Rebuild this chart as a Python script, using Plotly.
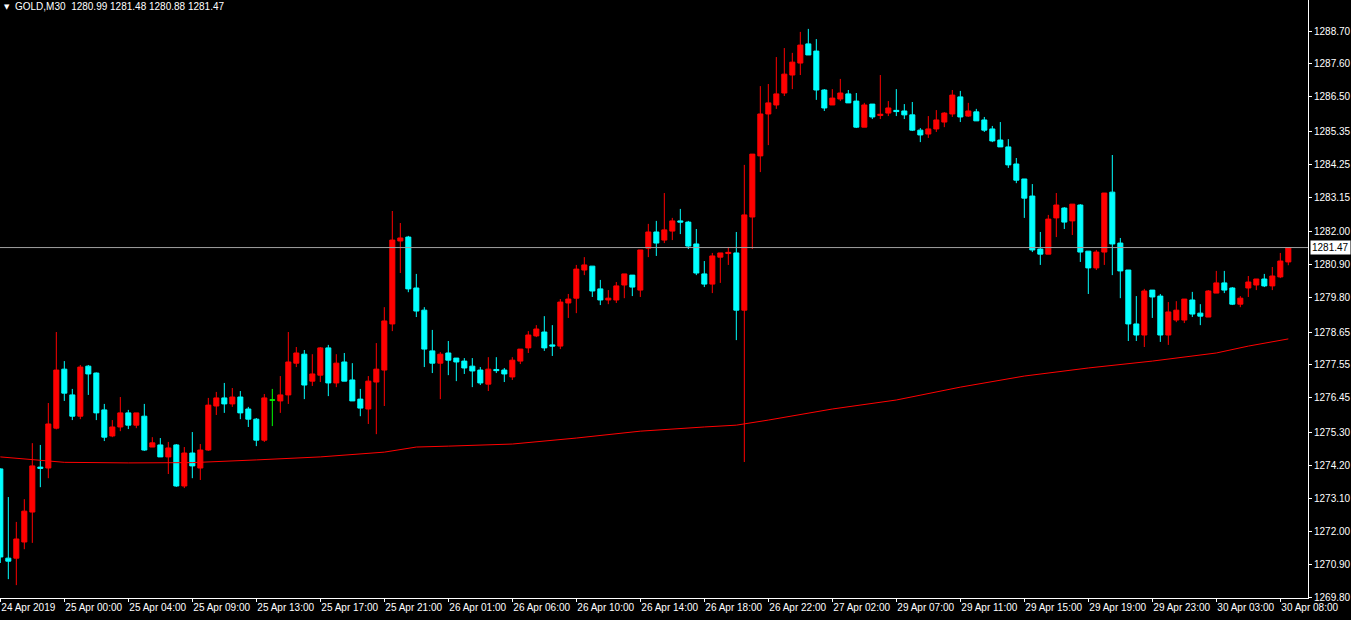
import plotly.graph_objects as go

# ---- data (GOLD, M30) ----
opens = [1274.08, 1271.10, 1271.10, 1271.64, 1272.64, 1274.14, 1274.11, 1275.44, 1277.41, 1276.55,
         1275.84, 1277.51, 1277.28, 1276.05, 1275.18, 1275.48, 1275.95, 1275.54, 1275.84, 1274.81,
         1274.88, 1274.48, 1274.88, 1273.51, 1274.61, 1274.11, 1274.71, 1276.18, 1276.45, 1276.25,
         1276.48, 1276.08, 1275.74, 1275.04, 1276.38, 1276.35, 1276.55, 1277.61, 1277.91, 1277.01,
         1277.21, 1278.12, 1276.95, 1277.65, 1277.05, 1276.41, 1276.08, 1276.98, 1277.38, 1278.92,
         1281.69, 1281.82, 1280.12, 1279.38, 1278.02, 1277.61, 1277.95, 1277.78, 1277.68, 1277.51,
         1277.38, 1276.91, 1277.40, 1277.38, 1277.15, 1277.68, 1278.12, 1278.52, 1278.65, 1278.22,
         1278.18, 1279.62, 1279.78, 1280.72, 1280.85, 1280.09, 1279.72, 1279.72, 1280.22, 1280.55,
         1280.05, 1281.45, 1281.99, 1281.72, 1282.02, 1282.36, 1282.32, 1281.59, 1280.59, 1280.25,
         1281.15, 1281.27, 1281.29, 1279.38, 1282.49, 1284.53, 1285.93, 1286.23, 1286.63, 1287.23,
         1287.63, 1288.27, 1288.03, 1286.73, 1286.23, 1286.43, 1286.60, 1286.36, 1285.49, 1286.26,
         1285.88, 1285.96, 1286.05, 1286.03, 1285.90, 1285.39, 1285.26, 1285.43, 1285.66, 1285.93,
         1286.50, 1285.86, 1286.00, 1285.73, 1285.43, 1285.06, 1284.83, 1284.26, 1283.76, 1283.19,
         1281.42, 1281.25, 1282.46, 1282.79, 1282.36, 1282.89, 1281.35, 1280.79, 1281.32, 1283.32,
         1281.62, 1280.72, 1278.92, 1278.55, 1280.05, 1279.85, 1278.55, 1279.05, 1279.05, 1279.72,
         1279.28, 1279.15, 1279.95, 1280.29, 1280.12, 1279.58, 1280.12, 1280.22, 1280.42, 1280.19,
         1280.49, 1280.99]
highs = [1274.10, 1273.14, 1272.31, 1273.07, 1274.94, 1274.88, 1276.28, 1278.65, 1277.68, 1276.75,
         1277.55, 1277.55, 1277.30, 1276.25, 1275.71, 1276.48, 1276.05, 1275.95, 1276.25, 1275.14,
         1275.11, 1274.98, 1274.91, 1274.81, 1275.31, 1274.91, 1276.45, 1276.65, 1276.95, 1276.78,
         1276.68, 1276.15, 1275.78, 1276.58, 1276.75, 1277.18, 1278.65, 1278.15, 1278.05, 1277.91,
         1278.15, 1278.22, 1277.91, 1277.95, 1277.61, 1276.75, 1277.18, 1278.28, 1279.48, 1282.69,
         1282.29, 1281.86, 1280.59, 1279.48, 1278.72, 1277.98, 1278.35, 1277.78, 1277.78, 1277.78,
         1277.48, 1277.81, 1277.81, 1277.45, 1277.81, 1278.08, 1278.68, 1278.88, 1279.18, 1278.88,
         1279.75, 1279.92, 1280.89, 1281.15, 1280.85, 1280.39, 1280.05, 1280.32, 1280.59, 1280.55,
         1281.39, 1282.26, 1282.36, 1283.29, 1282.46, 1282.76, 1282.36, 1282.09, 1281.02, 1281.29,
         1281.29, 1281.49, 1281.99, 1284.23, 1284.59, 1286.86, 1286.93, 1287.83, 1288.13, 1287.97,
         1288.67, 1288.77, 1288.43, 1286.76, 1286.76, 1287.10, 1286.73, 1286.63, 1286.30, 1286.26,
         1287.23, 1286.36, 1286.76, 1286.26, 1286.33, 1285.46, 1285.86, 1286.06, 1285.99, 1286.73,
         1286.70, 1286.30, 1286.10, 1285.83, 1285.53, 1285.66, 1285.09, 1284.46, 1283.76, 1283.59,
         1281.99, 1282.56, 1283.29, 1282.82, 1282.92, 1282.92, 1281.35, 1281.39, 1283.29, 1284.56,
         1281.79, 1280.72, 1279.85, 1280.09, 1280.05, 1279.92, 1279.65, 1279.68, 1279.75, 1279.99,
         1279.58, 1280.05, 1280.69, 1280.69, 1280.15, 1279.85, 1280.52, 1280.42, 1280.59, 1280.82,
         1281.29, 1281.48]
lows = [1270.94, 1270.40, 1270.20, 1271.40, 1271.61, 1273.47, 1273.77, 1275.40, 1276.35, 1275.71,
        1275.74, 1276.55, 1275.71, 1275.01, 1275.14, 1275.34, 1275.41, 1275.44, 1274.68, 1274.81,
        1274.48, 1273.91, 1273.48, 1273.44, 1273.77, 1273.71, 1274.68, 1275.88, 1275.95, 1276.15,
        1275.74, 1275.48, 1274.84, 1274.98, 1275.51, 1275.95, 1276.25, 1277.48, 1276.41, 1276.85,
        1276.98, 1276.51, 1276.81, 1277.01, 1276.35, 1275.84, 1275.58, 1275.24, 1276.18, 1278.68,
        1280.62, 1279.98, 1279.15, 1277.48, 1277.28, 1276.41, 1277.21, 1277.01, 1277.25, 1276.81,
        1276.88, 1276.68, 1277.28, 1276.98, 1277.05, 1277.58, 1277.95, 1278.48, 1278.02, 1277.85,
        1278.08, 1279.12, 1279.28, 1280.55, 1279.82, 1279.55, 1279.58, 1279.62, 1279.78, 1279.85,
        1279.82, 1281.15, 1281.19, 1281.62, 1281.72, 1281.92, 1281.42, 1280.55, 1280.15, 1279.95,
        1280.29, 1280.89, 1278.38, 1274.31, 1281.42, 1283.99, 1284.89, 1286.10, 1286.53, 1286.76,
        1287.23, 1287.90, 1286.40, 1286.03, 1286.23, 1286.36, 1286.30, 1285.46, 1285.49, 1285.76,
        1285.76, 1285.86, 1285.86, 1285.76, 1285.36, 1284.99, 1285.13, 1285.33, 1285.49, 1285.83,
        1285.66, 1285.83, 1285.70, 1285.33, 1284.99, 1284.83, 1284.13, 1283.62, 1282.46, 1281.32,
        1280.89, 1281.25, 1281.82, 1282.09, 1281.89, 1280.99, 1279.92, 1280.72, 1280.89, 1280.55,
        1279.78, 1278.35, 1278.35, 1278.15, 1279.12, 1278.32, 1278.22, 1278.98, 1278.95, 1279.15,
        1278.88, 1279.15, 1279.95, 1279.95, 1279.55, 1279.48, 1279.82, 1280.05, 1280.15, 1280.05,
        1280.45, 1280.88]
closes = [1271.14, 1271.00, 1271.74, 1272.67, 1274.18, 1274.10, 1275.58, 1277.38, 1276.61, 1275.84,
          1277.48, 1277.25, 1275.95, 1275.14, 1275.48, 1275.95, 1275.54, 1275.95, 1274.71, 1274.95,
          1274.48, 1274.78, 1273.51, 1274.61, 1274.18, 1274.71, 1276.21, 1276.45, 1276.25, 1276.48,
          1275.95, 1275.74, 1275.04, 1276.45, 1276.38, 1276.55, 1277.65, 1277.95, 1276.88, 1277.25,
          1278.12, 1276.95, 1277.61, 1277.01, 1276.35, 1276.11, 1277.01, 1277.41, 1279.02, 1281.72,
          1281.79, 1280.09, 1279.35, 1278.08, 1277.61, 1277.91, 1277.71, 1277.65, 1277.45, 1277.35,
          1276.95, 1277.41, 1277.36, 1277.25, 1277.71, 1278.08, 1278.55, 1278.75, 1278.12, 1278.18,
          1279.65, 1279.75, 1280.75, 1280.89, 1280.02, 1279.72, 1279.78, 1280.19, 1280.59, 1280.15,
          1281.39, 1281.99, 1281.62, 1282.06, 1282.36, 1282.32, 1281.52, 1280.62, 1280.25, 1281.19,
          1281.29, 1281.31, 1279.38, 1282.56, 1284.59, 1285.93, 1286.30, 1286.60, 1287.26, 1287.66,
          1288.23, 1287.90, 1286.73, 1286.13, 1286.46, 1286.63, 1286.30, 1285.49, 1286.23, 1285.83,
          1285.92, 1286.13, 1286.01, 1285.90, 1285.39, 1285.23, 1285.43, 1285.73, 1285.96, 1286.56,
          1285.83, 1286.03, 1285.70, 1285.39, 1285.03, 1284.83, 1284.23, 1283.72, 1283.12, 1281.39,
          1281.25, 1282.42, 1282.89, 1282.32, 1282.92, 1281.32, 1280.79, 1281.32, 1283.29, 1281.59,
          1280.69, 1278.92, 1278.55, 1280.02, 1279.82, 1278.55, 1279.32, 1279.38, 1279.75, 1279.25,
          1279.18, 1280.02, 1280.29, 1280.05, 1279.58, 1279.78, 1280.32, 1280.42, 1280.19, 1280.52,
          1281.02, 1281.47]

# moving average read at sampled bars
ma_bars = [0, 4, 8, 16, 24, 32, 40, 48, 52, 56, 64, 72, 80, 88, 92, 96, 104, 112, 120, 128, 136, 144, 152, 156, 161]
ma_values = [1274.48, 1274.38, 1274.30, 1274.28, 1274.29, 1274.38, 1274.48, 1274.64, 1274.81, 1274.84,
             1274.91, 1275.11, 1275.34, 1275.48, 1275.54, 1275.71, 1276.08, 1276.38, 1276.81, 1277.18,
             1277.45, 1277.68, 1277.95, 1278.18, 1278.42]

x_tick_bars = list(range(0, 162, 8))
x_tick_labels = ["24 Apr 2019", "25 Apr 00:00", "25 Apr 04:00", "25 Apr 09:00", "25 Apr 13:00",
                 "25 Apr 17:00", "25 Apr 21:00", "26 Apr 01:00", "26 Apr 06:00", "26 Apr 10:00",
                 "26 Apr 14:00", "26 Apr 18:00", "26 Apr 22:00", "27 Apr 02:00", "29 Apr 07:00",
                 "29 Apr 11:00", "29 Apr 15:00", "29 Apr 19:00", "29 Apr 23:00", "30 Apr 03:00",
                 "30 Apr 08:00"]
y_tick_labels = ["1288.70", "1287.60", "1286.50", "1285.35", "1284.25", "1283.15", "1282.00",
                 "1280.90", "1279.80", "1278.65", "1277.55", "1276.45", "1275.30", "1274.20",
                 "1273.10", "1272.00", "1270.90", "1269.80"]

symbol = "GOLD,M30"
last_price = closes[-1]

# ---- figure ----
idx = list(range(len(opens)))
norm = [i for i in idx if opens[i] != closes[i]]
doji = [i for i in idx if opens[i] == closes[i]]

fig = go.Figure()
fig.add_trace(go.Candlestick(
    x=norm,
    open=[opens[i] for i in norm], high=[highs[i] for i in norm],
    low=[lows[i] for i in norm], close=[closes[i] for i in norm],
    increasing=dict(line=dict(color="#ff0000", width=1), fillcolor="#ff0000"),
    decreasing=dict(line=dict(color="#00ffff", width=1), fillcolor="#00ffff"),
    whiskerwidth=0, showlegend=False, hoverinfo="skip"))
fig.add_trace(go.Candlestick(
    x=doji,
    open=[opens[i] for i in doji], high=[highs[i] for i in doji],
    low=[lows[i] for i in doji], close=[closes[i] for i in doji],
    increasing=dict(line=dict(color="#00ff00", width=1), fillcolor="#00ff00"),
    decreasing=dict(line=dict(color="#00ff00", width=1), fillcolor="#00ff00"),
    whiskerwidth=0, showlegend=False, hoverinfo="skip"))
fig.add_trace(go.Scatter(x=ma_bars, y=ma_values, mode="lines",
                         line=dict(color="#ff0000", width=1), showlegend=False, hoverinfo="skip"))

fig.add_hline(y=last_price, line=dict(color="#a0a0a0", width=1))

fig.add_annotation(xref="paper", yref="y", x=1, y=last_price, xanchor="left", yanchor="middle",
                   xshift=2, text=f"{last_price:.2f}", showarrow=False, bgcolor="#ffffff",
                   font=dict(color="#000000", size=10, family="Liberation Sans"), borderpad=1)
fig.add_annotation(xref="paper", yref="paper", x=0, y=1, xanchor="left", yanchor="top",
                   xshift=2, yshift=-1, text="▼", showarrow=False,
                   font=dict(color="#ffffff", size=7, family="DejaVu Sans"))
fig.add_annotation(xref="paper", yref="paper", x=0, y=1, xanchor="left", yanchor="top",
                   xshift=13, yshift=1,
                   text=f"{symbol}  {opens[-1]:.2f} {highs[-1]:.2f} {lows[-1]:.2f} {closes[-1]:.2f}",
                   showarrow=False, font=dict(color="#ffffff", size=10, family="Liberation Sans"))

fig.update_layout(
    width=1351, height=620,
    paper_bgcolor="#000000", plot_bgcolor="#000000",
    margin=dict(l=0, r=43, t=0, b=22, autoexpand=False),
    boxgap=0.3, boxgroupgap=0.1,
    xaxis=dict(range=[-0.04, 163.46], showgrid=False, zeroline=False, rangeslider=dict(visible=False),
               tickmode="array", tickvals=x_tick_bars, ticktext=x_tick_labels, tickangle=0,
               automargin=False,
               ticks="outside", ticklen=3, tickcolor="#ffffff", ticklabelposition="outside right",
               showline=True, linecolor="#ffffff", linewidth=1,
               tickfont=dict(color="#ffffff", size=10, family="Liberation Sans")),
    yaxis=dict(range=[1269.77, 1289.735], side="right", showgrid=False, zeroline=False,
               automargin=False,
               tickmode="array", tickvals=[float(v) for v in y_tick_labels], ticktext=y_tick_labels,
               ticks="outside", ticklen=3, tickcolor="#ffffff",
               showline=True, linecolor="#ffffff", linewidth=1,
               tickfont=dict(color="#ffffff", size=10, family="Liberation Sans")),
)

fig.write_html("out.html", config={"displayModeBar": False},
               post_script="document.body.style.margin='0';document.body.style.background='#000';")
